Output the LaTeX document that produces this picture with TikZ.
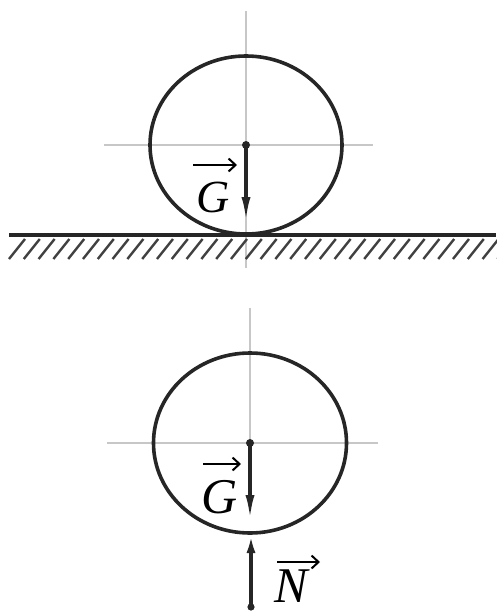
\documentclass[tikz,border=0pt]{standalone}
\usepackage{fontspec}
\setmainfont{Liberation Serif}
\usetikzlibrary{arrows.meta}
\begin{document}
\begin{tikzpicture}[x=1pt,y=-1pt,
  axis/.style={draw=black!22,line width=1.6pt},
  body/.style={draw=black!85,line width=3.6pt},
  force/.style={draw=black!85,line width=3.4pt,-{Latex[length=25pt,width=9pt]}},
  forceN/.style={draw=black!85,line width=3.4pt,-{Latex[length=18pt,width=9pt]}},
  hatch/.style={draw=black!75,line width=2.4pt},
  vecar/.style={draw=black,line width=2pt,-{Straight Barb[length=7pt,width=13pt]}},
  lab/.style={inner sep=0pt,font=\fontsize{46}{50}\selectfont\itshape}]
\useasboundingbox (0,0) rectangle (496,613);
% ---------- top figure ----------
\coordinate (c1) at (246,145);
\draw[axis] (246,11) -- (246,268);
\draw[axis] (104,145) -- (373,145);
\draw[body] (c1) ellipse [x radius=96, y radius=89];
\foreach \i in {0,...,33} {
  \draw[hatch] ({9+14.8*\i},259) -- ({25+14.8*\i},239);
}
\draw[draw=black!85,line width=4pt] (9,235) -- (496,235);
\coordinate (g1) at (246,222);
\draw[force] (c1) -- (g1);
\fill[black!85] (c1) circle (4);
\node[lab,anchor=base] (G1) at (213,212) {G};
\coordinate (a1s) at (193,165);
\coordinate (a1e) at (237,165);
\draw[vecar] (a1s) -- (a1e);
% ---------- bottom figure ----------
\coordinate (c2) at (250,443);
\draw[axis] (250,308) -- (250,443);
\draw[axis] (107,443) -- (378,443);
\draw[body] (c2) ellipse [x radius=96.5, y radius=90];
\coordinate (g2) at (250,520);
\draw[force] (c2) -- (g2);
\fill[black!85] (c2) circle (4);
\coordinate (n0) at (251,607);
\coordinate (n1) at (251,535);
\draw[forceN] (n0) -- (n1);
\fill[black!85] (n0) circle (3.6);
\node[lab,anchor=base,font=\fontsize{50}{54}\selectfont\itshape] (G2) at (220,513) {G};
\coordinate (a2s) at (203,464);
\coordinate (a2e) at (241,464);
\draw[vecar] (a2s) -- (a2e);
\node[lab,anchor=base,font=\fontsize{50}{54}\selectfont\itshape] (N) at (291,602) {N};
\coordinate (a3s) at (277,562);
\coordinate (a3e) at (320,562);
\draw[vecar] (a3s) -- (a3e);
\end{tikzpicture}
\end{document}
